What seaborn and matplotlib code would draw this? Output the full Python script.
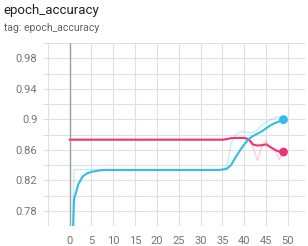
"""TensorBoard-style epoch_accuracy chart."""

import matplotlib
matplotlib.use("Agg")
import matplotlib.pyplot as plt
import pandas as pd
import seaborn as sns

# values, one per epoch (0..49)
epochs = list(range(50))

blue_smoothed = [
    0.600, 0.795, 0.815, 0.825, 0.829, 0.831, 0.832, 0.833, 0.8335, 0.8335,
    0.8335, 0.8335, 0.8335, 0.8335, 0.8335, 0.8335, 0.8335, 0.8335, 0.8335, 0.8335,
    0.8335, 0.8335, 0.8335, 0.8335, 0.8335, 0.8335, 0.8335, 0.8335, 0.8335, 0.8335,
    0.8335, 0.8335, 0.8335, 0.8335, 0.8335, 0.8340, 0.835, 0.840, 0.850, 0.859,
    0.867, 0.874, 0.878, 0.881, 0.884, 0.888, 0.892, 0.895, 0.897, 0.8995,
]
blue_raw = [
    0.600, 0.834, 0.834, 0.834, 0.834, 0.834, 0.834, 0.834, 0.834, 0.834,
    0.834, 0.834, 0.834, 0.834, 0.834, 0.834, 0.834, 0.834, 0.834, 0.834,
    0.834, 0.834, 0.834, 0.834, 0.834, 0.834, 0.834, 0.834, 0.834, 0.834,
    0.834, 0.834, 0.834, 0.834, 0.834, 0.834, 0.838, 0.868, 0.880, 0.883,
    0.884, 0.882, 0.883, 0.886, 0.892, 0.896, 0.899, 0.902, 0.903, 0.901,
]
pink_smoothed = [
    0.8732, 0.8732, 0.8732, 0.8732, 0.8732, 0.8732, 0.8732, 0.8732, 0.8732, 0.8732,
    0.8732, 0.8732, 0.8732, 0.8732, 0.8732, 0.8732, 0.8732, 0.8732, 0.8732, 0.8732,
    0.8732, 0.8732, 0.8732, 0.8732, 0.8732, 0.8732, 0.8732, 0.8732, 0.8732, 0.8732,
    0.8732, 0.8732, 0.8732, 0.8732, 0.8732, 0.8732, 0.8740, 0.8752, 0.8755, 0.8755,
    0.8755, 0.8740, 0.8670, 0.8655, 0.8660, 0.8670, 0.8636, 0.8600, 0.8575, 0.8570,
]
pink_raw = [
    0.8732, 0.8732, 0.8732, 0.8732, 0.8732, 0.8732, 0.8732, 0.8732, 0.8732, 0.8732,
    0.8732, 0.8732, 0.8732, 0.8732, 0.8732, 0.8732, 0.8732, 0.8732, 0.8732, 0.8732,
    0.8732, 0.8732, 0.8732, 0.8732, 0.8732, 0.8732, 0.8732, 0.8732, 0.8732, 0.8732,
    0.8732, 0.8732, 0.8732, 0.8732, 0.8732, 0.8732, 0.8732, 0.876, 0.876, 0.876,
    0.876, 0.872, 0.864, 0.846, 0.864, 0.872, 0.862, 0.860, 0.847, 0.858,
]

x_ticks = [-5, 0, 5, 10, 15, 20, 25, 30, 35, 40, 45, 50]
y_ticks = [0.76, 0.78, 0.80, 0.82, 0.84, 0.86, 0.88, 0.90, 0.92, 0.94, 0.96, 0.98, 1.00]
y_labels = ["", "0.78", "", "0.82", "", "0.86", "", "0.9", "", "0.94", "", "0.98", ""]
x_labels = ["", "0", "5", "10", "15", "20", "25", "30", "35", "40", "45", "50"]

BLUE = "#33bbee"
PINK = "#ee3377"

sns.set_theme(style="white")
plt.rcParams["font.family"] = ["Roboto", "DejaVu Sans"]

df = pd.DataFrame({
    "epoch": epochs,
    "blue_smoothed": blue_smoothed,
    "blue_raw": blue_raw,
    "pink_smoothed": pink_smoothed,
    "pink_raw": pink_raw,
})

fig = plt.figure(figsize=(3.08, 2.46), dpi=100)
ax = fig.add_axes([0.1396, 0.0813, 0.8504, 0.7439])

# faint raw series underneath
sns.lineplot(data=df, x="epoch", y="pink_raw", color=PINK, alpha=0.25, linewidth=0.9, ax=ax)
sns.lineplot(data=df, x="epoch", y="blue_raw", color=BLUE, alpha=0.3, linewidth=0.9, ax=ax)
# smoothed series
sns.lineplot(data=df, x="epoch", y="pink_smoothed", color=PINK, linewidth=1.5, ax=ax)
sns.lineplot(data=df, x="epoch", y="blue_smoothed", color=BLUE, linewidth=1.5, ax=ax)

last = df.tail(1)
sns.scatterplot(data=last, x="epoch", y="pink_smoothed", color=PINK, s=40,
                edgecolor="none", ax=ax, zorder=5, clip_on=False)
sns.scatterplot(data=last, x="epoch", y="blue_smoothed", color=BLUE, s=40,
                edgecolor="none", ax=ax, zorder=5, clip_on=False)

ax.axvline(0, color="#9e9e9e", linewidth=1.0, zorder=1)

ax.set_xlim(-6.1, 53.9)
ax.set_ylim(0.76, 1.0)
ax.set_xticks(x_ticks)
ax.set_xticklabels(x_labels)
ax.set_yticks(y_ticks)
ax.set_yticklabels(y_labels)
ax.grid(True, color="#e0e0e0", linewidth=0.8)
ax.set_axisbelow(True)
ax.tick_params(axis="both", length=0, labelsize=8, colors="#757575")
ax.tick_params(axis="x", pad=7)
ax.tick_params(axis="y", pad=4)
ax.set_xlabel("")
ax.set_ylabel("")
for spine in ax.spines.values():
    spine.set_visible(False)

fig.text(0.012, 0.985, "epoch_accuracy", fontsize=9.5, color="#212121", va="top", ha="left")
fig.text(0.012, 0.905, "tag: epoch_accuracy", fontsize=7.5, color="#616161", va="top", ha="left")

fig.savefig("out.png", dpi=100)
